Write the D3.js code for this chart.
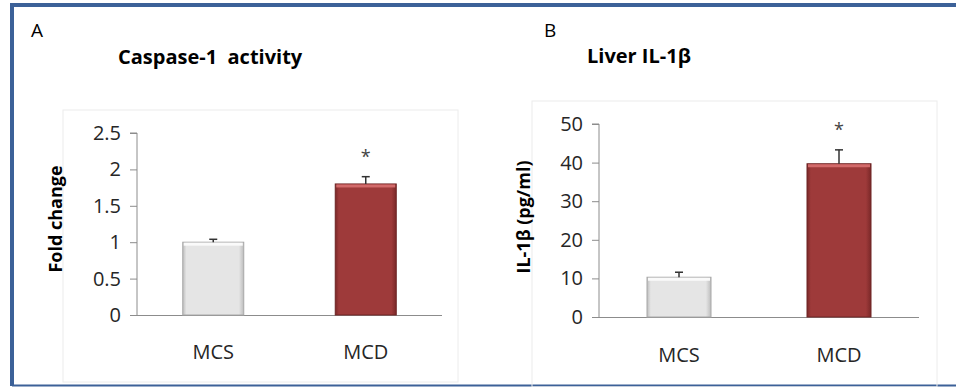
<!DOCTYPE html>
<html>
<head>
<meta charset="utf-8">
<script src="https://cdn.jsdelivr.net/npm/d3@7"></script>
<style>
  body { margin: 0; background: #fff; }
  svg { display: block; font-family: "Open Sans", sans-serif; }
</style>
</head>
<body>
<div id="chart"></div>
<script>
let width = 956,
    height = 387

// data
let categories = ["MCS", "MCD"]
let caspaseValues = [1.0, 1.8]
let caspaseErrors = [0.04, 0.1]
let caspaseTicks = [0, 0.5, 1, 1.5, 2, 2.5]
let il1bValues = [10.3, 39.7]
let il1bErrors = [1.3, 3.6]
let il1bTicks = [0, 10, 20, 30, 40, 50]
let stars = ["", "*"]

let svg = d3.select("#chart")
  .append("svg")
    .attr("width", width)
    .attr("height", height);

let defs = svg.append("defs");

function bevel(id, mid, edge) {
  let g = defs.append("linearGradient")
    .attr("id", id)
    .attr("x1", 0).attr("y1", 0).attr("x2", 1).attr("y2", 0);
  g.append("stop").attr("offset", "0%").attr("stop-color", edge);
  g.append("stop").attr("offset", "6%").attr("stop-color", mid);
  g.append("stop").attr("offset", "92%").attr("stop-color", mid);
  g.append("stop").attr("offset", "100%").attr("stop-color", edge);
}
bevel("gray", "#e5e5e5", "#bdbdbd");
bevel("red", "#9e3a3a", "#7a2828");
let barColor = d3.scaleOrdinal().domain(categories).range(["url(#gray)", "url(#red)"]);
let topColor = d3.scaleOrdinal().domain(categories).range(["#fafafa", "#d26a6a"]);
let edgeColor = d3.scaleOrdinal().domain(categories).range(["#a8a8a8", "#6e2424"]);

// outer blue frame (left + top thick, bottom thin)
svg.append("path")
  .attr("d", `M12,386V5H${width}`)
  .attr("fill", "none")
  .attr("stroke", "#3c6198")
  .attr("stroke-width", 4);
svg.append("line")
  .attr("x1", 12).attr("x2", width)
  .attr("y1", 385.5).attr("y2", 385.5)
  .attr("stroke", "#3c6198").attr("stroke-width", 2);

function panel(opt) {
  let g = svg.append("g");

  g.append("rect")
    .attr("x", opt.box[0]).attr("y", opt.box[1])
    .attr("width", opt.box[2]).attr("height", opt.box[3])
    .attr("fill", "none")
    .attr("stroke", "#ececec");

  g.append("text")
    .attr("x", opt.letterPos[0]).attr("y", opt.letterPos[1])
    .style("font-size", "19px")
    .text(opt.letter);

  g.append("text")
    .attr("x", opt.titlePos[0]).attr("y", opt.titlePos[1])
    .style("font-size", "20px")
    .style("font-weight", "bold")
    .style("white-space", "pre")
    .text(opt.title);

  let x = d3.scaleBand()
    .domain(categories)
    .range(opt.xRange)
    .paddingInner(0.6)
    .paddingOuter(0.3);

  let y = d3.scaleLinear()
    .domain([0, d3.max(opt.ticks)])
    .range(opt.yRange);

  let yAxis = g.append("g")
    .attr("transform", `translate(${opt.xRange[0]},0)`)
    .call(d3.axisLeft(y).tickValues(opt.ticks).tickSize(7).tickPadding(9).tickFormat(d3.format("")));
  yAxis.select(".domain").attr("stroke", "#8c8c8c").attr("d", `M-7,${opt.yRange[1]}H0V${opt.yRange[0]}`);
  yAxis.selectAll(".tick line").attr("stroke", "#8c8c8c");
  yAxis.selectAll(".tick text")
    .attr("fill", "#262626")
    .style("font-size", "20px")
    .style("font-family", "Open Sans, sans-serif");

  g.append("line")
    .attr("x1", opt.xRange[0]).attr("x2", opt.xRange[1])
    .attr("y1", opt.yRange[0] + 0.5).attr("y2", opt.yRange[0] + 0.5)
    .attr("stroke", "#8c8c8c");

  let data = categories.map((c, i) => ({ name: c, value: opt.values[i], err: opt.errors[i], star: stars[i] }));

  let bars = g.selectAll(null)
    .data(data)
    .enter()
    .append("g");

  bars.append("rect")
    .attr("x", d => x(d.name))
    .attr("y", d => y(d.value))
    .attr("width", x.bandwidth())
    .attr("height", d => y(0) - y(d.value))
    .attr("fill", d => barColor(d.name))
    .attr("stroke", d => edgeColor(d.name))
    .attr("stroke-width", 1);

  bars.append("rect")
    .attr("x", d => x(d.name) + 1)
    .attr("y", d => y(d.value) + 0.5)
    .attr("width", x.bandwidth() - 2)
    .attr("height", 3)
    .attr("fill", d => topColor(d.name));

  bars.append("line")
    .attr("x1", d => x(d.name) + x.bandwidth() / 2)
    .attr("x2", d => x(d.name) + x.bandwidth() / 2)
    .attr("y1", d => y(d.value))
    .attr("y2", d => y(d.value + d.err))
    .attr("stroke", "#333")
    .attr("stroke-width", 1.5);

  bars.append("line")
    .attr("x1", d => x(d.name) + x.bandwidth() / 2 - 4)
    .attr("x2", d => x(d.name) + x.bandwidth() / 2 + 4)
    .attr("y1", d => y(d.value + d.err))
    .attr("y2", d => y(d.value + d.err))
    .attr("stroke", "#333")
    .attr("stroke-width", 1.5);

  bars.append("text")
    .attr("x", d => x(d.name) + x.bandwidth() / 2)
    .attr("y", d => y(d.value + d.err) - 14)
    .attr("text-anchor", "middle")
    .attr("fill", "#444")
    .style("font-size", "18px")
    .text(d => d.star);

  g.selectAll(null)
    .data(categories)
    .enter()
    .append("text")
    .attr("x", d => x(d) + x.bandwidth() / 2)
    .attr("y", opt.catY)
    .attr("text-anchor", "middle")
    .attr("fill", "#262626")
    .style("font-size", "20px")
    .text(d => d);

  g.append("text")
    .attr("transform", `translate(${opt.yLabelPos[0]},${opt.yLabelPos[1]}) rotate(-90)`)
    .attr("text-anchor", "middle")
    .attr("dy", "0.35em")
    .style("font-size", "18px")
    .style("font-weight", "bold")
    .text(opt.yLabel);
}

panel({
  box: [63, 110, 395, 272],
  letter: "A", letterPos: [31, 37],
  title: "Caspase-1  activity", titlePos: [118, 64],
  xRange: [137, 442], yRange: [315, 133],
  ticks: caspaseTicks, values: caspaseValues, errors: caspaseErrors,
  catY: 359, yLabel: "Fold change", yLabelPos: [56, 219]
});

panel({
  box: [532, 101, 405, 286],
  letter: "B", letterPos: [544, 37],
  title: "Liver IL-1\u03b2", titlePos: [587, 63],
  xRange: [599, 919], yRange: [317, 124],
  ticks: il1bTicks, values: il1bValues, errors: il1bErrors,
  catY: 362, yLabel: "IL-1\u03b2 (pg/ml)", yLabelPos: [524, 217]
});
</script>
</body>
</html>
